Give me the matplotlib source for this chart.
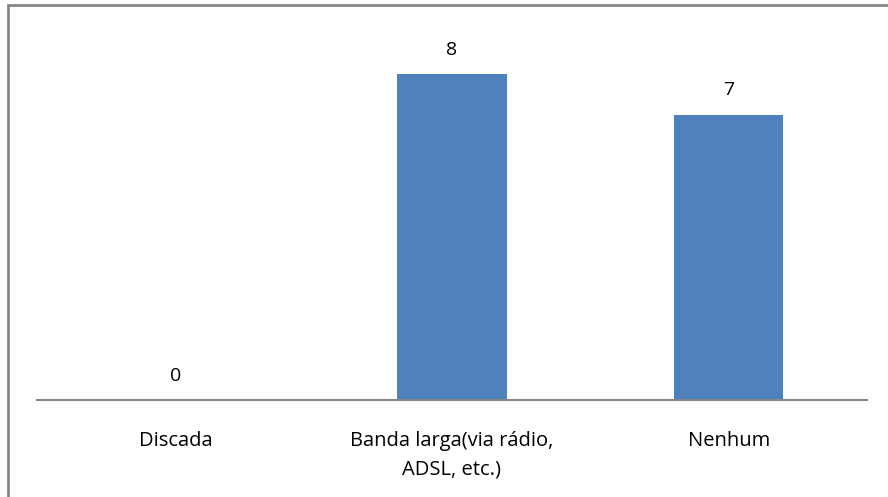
import matplotlib
matplotlib.use("Agg")
import matplotlib.pyplot as plt
from matplotlib.patches import Rectangle

categories = ["Discada", "Banda larga(via rádio,\nADSL, etc.)", "Nenhum"]
values = [0, 8, 7]

plt.rcParams['font.family'] = ['Open Sans', 'DejaVu Sans']

W, H = 888, 497
fig = plt.figure(figsize=(W / 100, H / 100), dpi=100)
fig.patch.set_facecolor("white")

# outer chart frame
fig.patches.append(Rectangle((8 / W, -0.1), 1.2, (H - 5) / H + 0.1,
                             transform=fig.transFigure, fill=False,
                             edgecolor="#878787", linewidth=2))

ax = fig.add_axes([37 / W, (H - 400) / H, (867 - 37) / W, (400 - 33) / H])
x = range(len(categories))
bars = ax.bar(x, values, width=0.395, color="#4F81BD")

ax.set_xlim(-0.5, len(categories) - 0.5)
ax.set_ylim(0, 9)
ax.set_yticks([])
ax.set_xticks(list(x))
ax.set_xticklabels(categories, fontsize=14.5, color="#000000", linespacing=1.6)
ax.tick_params(axis="x", length=0, pad=22)
for s in ["top", "left", "right"]:
    ax.spines[s].set_visible(False)
ax.spines["bottom"].set_color("#868686")
ax.spines["bottom"].set_linewidth(1.5)
ax.set_facecolor("none")

for xi, v in zip(x, values):
    ax.annotate(str(v), (xi, v), xytext=(0, 11), textcoords="offset points",
                ha="center", va="bottom", fontsize=14)

fig.savefig("out.png", dpi=100)
